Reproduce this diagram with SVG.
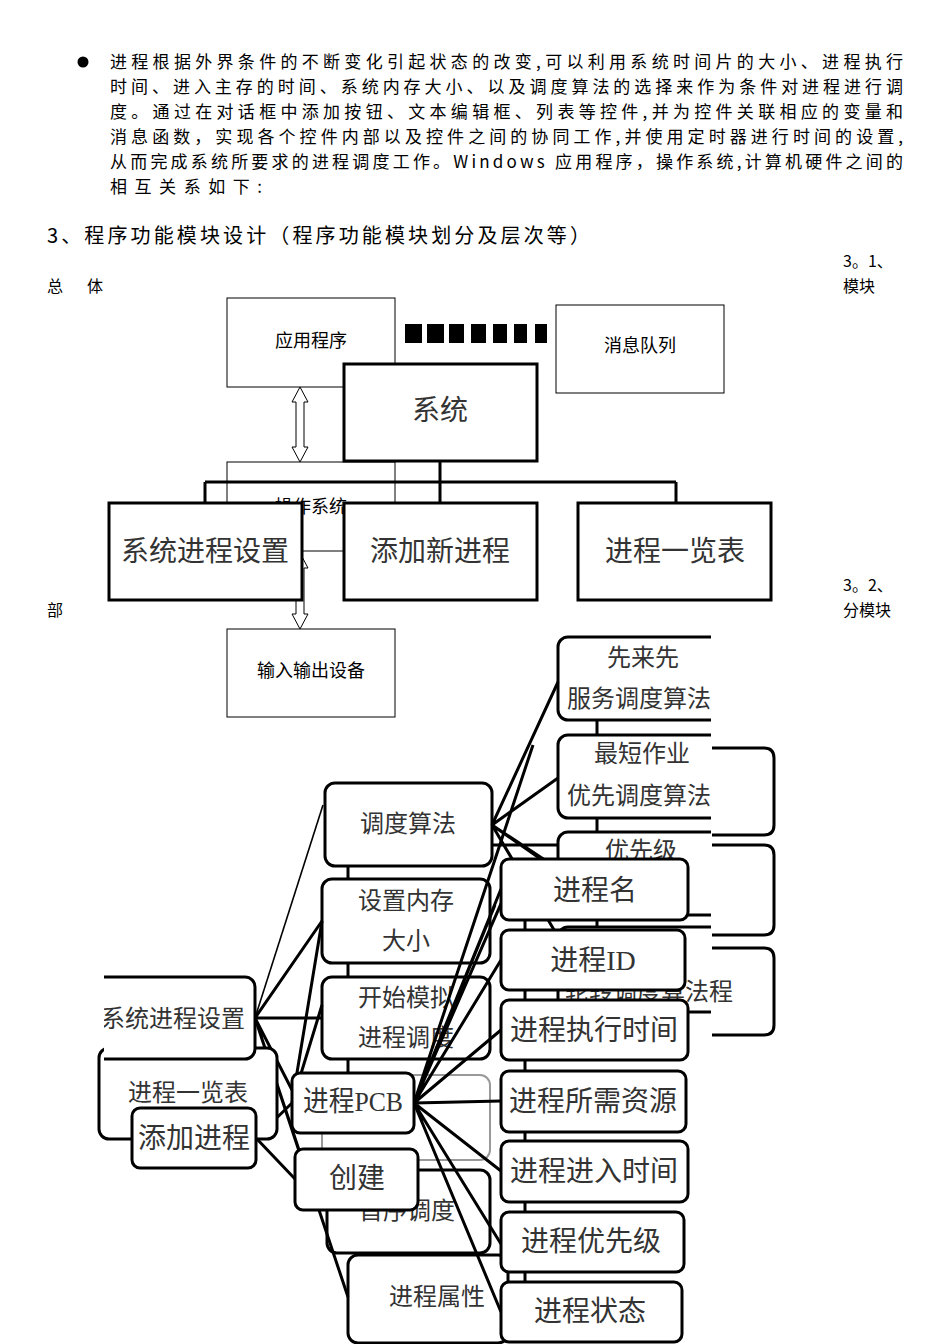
<svg xmlns="http://www.w3.org/2000/svg" width="950" height="1344" viewBox="0 0 950 1344">
<style>
.p{font-family:'Noto Sans CJK SC',sans-serif;font-size:17px;fill:#000}
.s{font-family:'Noto Sans CJK SC',sans-serif;font-size:16px;fill:#000}
.h{font-family:'Noto Sans CJK SC',sans-serif;font-size:20px;fill:#000}
.t1{font-family:'Noto Sans CJK SC',sans-serif;font-size:18px;fill:#000;text-anchor:middle}
.big{font-family:'Liberation Serif','Noto Sans CJK SC',serif;font-size:28px;fill:#333;text-anchor:middle}
.m{font-family:'Liberation Serif','Noto Sans CJK SC',serif;font-size:24px;fill:#333;text-anchor:middle}
.ml{font-family:'Liberation Serif','Noto Sans CJK SC',serif;font-size:24px;fill:#333}
.thin{fill:#fff;stroke:#000;stroke-width:1}
.thick{fill:#fff;stroke:#000;stroke-width:3}
.rb{fill:#fff;stroke:#000;stroke-width:3}
.ln{stroke:#000;stroke-width:3;fill:none}
.ar{fill:#fff;stroke:#000;stroke-width:1}
</style>
<defs>
<clipPath id="cR"><rect x="0" y="0" width="711" height="1344"/></clipPath>
<clipPath id="cOS"><rect x="0" y="497" width="950" height="100"/></clipPath>
<clipPath id="cL"><rect x="104" y="0" width="846" height="1344"/></clipPath>
</defs>
<rect width="950" height="1344" fill="#fff"/>

<g id="text-block">
<circle cx="83" cy="62" r="5.5" fill="#000"/>
<text class="p" x="110" y="68" textLength="793" lengthAdjust="spacing">进程根据外界条件的不断变化引起状态的改变,可以利用系统时间片的大小、进程执行</text>
<text class="p" x="110" y="93" textLength="793" lengthAdjust="spacing">时间、进入主存的时间、系统内存大小、以及调度算法的选择来作为条件对进程进行调</text>
<text class="p" x="110" y="118" textLength="793" lengthAdjust="spacing">度。通过在对话框中添加按钮、文本编辑框、列表等控件,并为控件关联相应的变量和</text>
<text class="p" x="110" y="143" textLength="793" lengthAdjust="spacing">消息函数，实现各个控件内部以及控件之间的协同工作,并使用定时器进行时间的设置,</text>
<text class="p" x="110" y="168" textLength="793" lengthAdjust="spacing">从而完成系统所要求的进程调度工作。Windows 应用程序，操作系统,计算机硬件之间的</text>
<text class="p" x="110" y="193" textLength="152" lengthAdjust="spacing">相互关系如下:</text>
<text class="h" x="47" y="243" textLength="543" lengthAdjust="spacing">3、程序功能模块设计（程序功能模块划分及层次等）</text>
<text class="s" x="843" y="267">3。1、</text>
<text class="s" x="47" y="292">总</text>
<text class="s" x="87" y="292">体</text>
<text class="s" x="843" y="292">模块</text>
<text class="s" x="843" y="591">3。2、</text>
<text class="s" x="47" y="616">部</text>
<text class="s" x="843" y="616">分模块</text>
</g>

<g id="overview">
<g id="app"><rect class="thin" x="227" y="298" width="168" height="89"/><text class="t1" x="311" y="347">应用程序</text></g>
<g id="msgq"><rect class="thin" x="556" y="305" width="168" height="88"/><text class="t1" x="640" y="352">消息队列</text></g>
<g id="dashes" fill="#000">
<rect x="405" y="324" width="17" height="19"/><rect x="427" y="324" width="17" height="19"/><rect x="449" y="324" width="15" height="19"/><rect x="471" y="324" width="15" height="19"/><rect x="493" y="324" width="14" height="19"/><rect x="514" y="324" width="13" height="19"/><rect x="535" y="324" width="12" height="19"/>
</g>
<g id="os"><rect class="thin" x="227" y="462" width="168" height="89"/><text class="t1" x="311" y="513" clip-path="url(#cOS)">操作系统</text></g>
<g id="io"><rect class="thin" x="227" y="629" width="168" height="88"/><text class="t1" x="311" y="677">输入输出设备</text></g>
<g id="overview-connectors">
<path class="ar" d="M300,387 L308,402 L304,402 L304,447 L308,447 L300,462 L292,447 L296,447 L296,402 L292,402 Z"/>
<path class="ar" d="M300,553 L308,568 L304,568 L304,614 L308,614 L300,629 L292,614 L296,614 L296,568 L292,568 Z"/>
<path class="ln" d="M440,462 V503 M205,482 H676 M205,482 V503 M676,482 V503"/>
</g>
<g id="sys"><rect class="thick" x="344" y="364" width="193" height="97"/><text class="big" x="440" y="420">系统</text></g>
<g id="sysset"><rect class="thick" x="109" y="503" width="193" height="97"/><text class="big" x="205" y="561">系统进程设置</text></g>
<g id="addnew"><rect class="thick" x="344" y="503" width="193" height="97"/><text class="big" x="440" y="561">添加新进程</text></g>
<g id="plist"><rect class="thick" x="578" y="503" width="193" height="97"/><text class="big" x="675" y="561">进程一览表</text></g>
</g>

<g id="tree">
<g id="back-right">
<path class="ln" d="M712,748 H764 Q774,748 774,758 V825 Q774,835 764,835 H712"/>
<path class="ln" d="M712,845 H764 Q774,845 774,855 V925 Q774,935 764,935 H712"/>
<path class="ln" d="M712,948 H764 Q774,948 774,958 V1025 Q774,1035 764,1035 H712"/>
</g>
<g id="back-clipped" clip-path="url(#cR)">
<path class="ln" d="M597,720 V735 M597,818 V832 M597,915 V927"/>
<g id="fcfs"><rect class="rb" x="558" y="637" width="200" height="83" rx="10"/><text class="m" x="643" y="666">先来先</text><text class="ml" x="567" y="707">服务调度算法</text></g>
<g id="sjf"><rect class="rb" x="558" y="735" width="200" height="83" rx="10"/><text class="m" x="642" y="762">最短作业</text><text class="ml" x="567" y="804">优先调度算法</text></g>
<g id="prio"><rect class="rb" x="558" y="832" width="200" height="83" rx="10"/><text class="m" x="641" y="859">优先级</text></g>
<g id="rr"><rect class="rb" x="558" y="927" width="200" height="85" rx="10"/></g>
</g>
<text class="ml" x="565" y="1000">轮转调度算法程</text>

<g id="back-mid">
<path class="ln" d="M348,866 V879 M348,963 V977 M348,1059 V1075 M525,859 V1282"/>
<rect x="322" y="1075" width="168" height="85" rx="10" fill="#fff" stroke="#999" stroke-width="2"/>
<g id="seq"><rect class="rb" x="327" y="1170" width="163" height="83" rx="10"/><text class="m" x="407" y="1219">首序调度</text></g>
<g id="attr"><rect class="rb" x="348" y="1255" width="160" height="88" rx="10"/><text class="m" x="437" y="1305">进程属性</text></g>
<g id="algo"><rect class="rb" x="325" y="783" width="167" height="83" rx="10"/><text class="m" x="408" y="832">调度算法</text></g>
<g id="mem"><rect class="rb" x="322" y="879" width="168" height="84" rx="10"/><text class="m" x="406" y="909">设置内存</text><text class="m" x="406" y="949">大小</text></g>
<g id="sim"><rect class="rb" x="322" y="977" width="168" height="82" rx="10"/><text class="m" x="406" y="1006">开始模拟</text><text class="m" x="406" y="1046">进程调度</text></g>
</g>

<g id="tree-connectors">
<path class="ln" d="M492,825 L558,682 M492,825 L558,778 M492,825 L545,862 M492,825 L575,880 M492,825 L560,940 M492,845 H558"/>
<path d="M255,1018 L323,805" stroke="#000" stroke-width="1.6" fill="none"/>
<path class="ln" d="M255,1018 L322,921 M255,1018 H322 M255,1018 L292,1090 M255,1018 L302,1160 M255,1018 L348,1297"/>
<path class="ln" d="M292,1103 L322,921 M292,1103 L322,1005 M256,1138 L292,1103 M256,1138 L296,1180"/>
<path class="ln" d="M414,1103 L501,889 M414,1103 L501,960 M414,1103 L501,1030 M414,1103 L501,1101 M414,1103 L501,1171 M414,1103 L501,1244 M414,1103 L501,1312 M414,1103 L495,905 M414,1103 L520,860 M414,1103 L533,745"/>
</g>

<g id="front-left">
<g id="plist2"><rect class="rb" x="99" y="1048" width="178" height="91" rx="10"/><text class="m" x="188" y="1101">进程一览表</text></g>
<g id="sysset2" clip-path="url(#cL)"><rect class="rb" x="90" y="977" width="165" height="82" rx="10"/><text class="ml" x="101" y="1027">系统进程设置</text></g>
<g id="addp"><rect class="rb" x="132" y="1108" width="124" height="60" rx="8"/><text class="big" x="194" y="1148">添加进程</text></g>
<g id="pcb"><rect class="rb" x="292" y="1073" width="122" height="60" rx="8"/><text class="big" x="353" y="1111" textLength="100" lengthAdjust="spacingAndGlyphs">进程PCB</text></g>
<g id="create"><rect class="rb" x="295" y="1149" width="123" height="61" rx="8"/><text class="big" x="357" y="1188">创建</text></g>
</g>

<g id="front-right">
<g id="pname"><rect class="rb" x="501" y="859" width="187" height="61" rx="8"/><text class="big" x="595" y="900">进程名</text></g>
<g id="pid"><rect class="rb" x="501" y="930" width="184" height="60" rx="8"/><text class="big" x="593" y="970">进程ID</text></g>
<g id="pexec"><rect class="rb" x="501" y="1000" width="187" height="60" rx="8"/><text class="big" x="594" y="1040">进程执行时间</text></g>
<g id="pres"><rect class="rb" x="501" y="1071" width="185" height="61" rx="8"/><text class="big" x="593" y="1111">进程所需资源</text></g>
<g id="pin"><rect class="rb" x="501" y="1141" width="187" height="61" rx="8"/><text class="big" x="594" y="1181">进程进入时间</text></g>
<g id="pprio"><rect class="rb" x="501" y="1212" width="183" height="60" rx="8"/><text class="big" x="591" y="1251">进程优先级</text></g>
<g id="pstate"><rect class="rb" x="501" y="1282" width="181" height="60" rx="8"/><text class="big" x="590" y="1321">进程状态</text></g>
</g>
</g>
</svg>
